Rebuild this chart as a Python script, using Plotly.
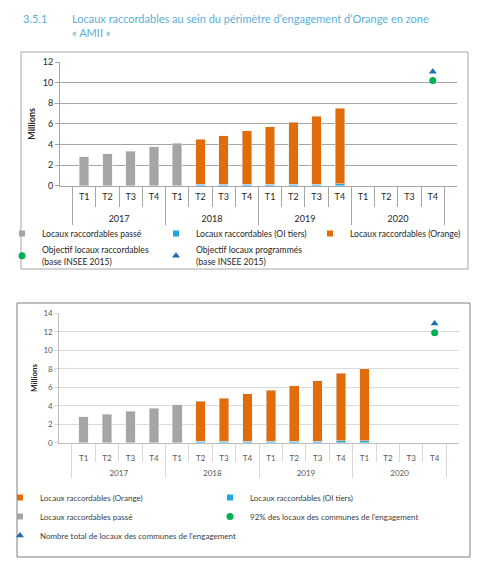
import plotly.graph_objects as go

W, H = 479, 567

# categories
years = ["2017"] * 4 + ["2018"] * 4 + ["2019"] * 4 + ["2020"] * 4
quarters = ["T1", "T2", "T3", "T4"] * 4

# chart 1 (top) values, millions
passe_1 = [2.8, 3.1, 3.35, 3.77, 4.12] + [None] * 11
oi_1 = [None] * 5 + [0.15, 0.15, 0.15, 0.15, 0.15, 0.15, 0.18] + [None] * 4
orange_1 = [None] * 5 + [4.35, 4.69, 5.17, 5.56, 5.99, 6.57, 7.32] + [None] * 4
obj_racc_1 = [None] * 15 + [10.2]
obj_prog_1 = [None] * 15 + [11.05]

# chart 2 (bottom) values, millions
passe_2 = [2.8, 3.1, 3.39, 3.75, 4.08] + [None] * 11
oi_2 = [None] * 5 + [0.15, 0.15, 0.15, 0.15, 0.15, 0.18, 0.22, 0.22] + [None] * 3
orange_2 = [None] * 5 + [4.36, 4.65, 5.12, 5.55, 5.99, 6.52, 7.28, 7.76] + [None] * 3
obj_92_2 = [None] * 15 + [11.9]
obj_total_2 = [None] * 15 + [12.9]

GREY = "#A5A5A5"
BLUE = "#22A6E0"
ORANGE = "#E36C0A"
GREEN = "#00B050"
TRI = "#1F6DB5"
FONT = "Lato"


def px_y(p):
    return 1 - p / H


def px_x(p):
    return p / W


# year goes on a second line so it sits below the quarter row, like Excel
x_cat = [["<br>" + y for y in years], quarters]

fig = go.Figure()


def add_chart(xa, ya, leg, passe, oi, orange, circ, tri, names, ranks):
    # bars (legend drawn by small proxies below)
    fig.add_trace(go.Bar(x=x_cat, y=passe, marker_color=GREY, xaxis=xa, yaxis=ya,
                         showlegend=False, name=names[0]))
    fig.add_trace(go.Bar(x=x_cat, y=oi, marker_color=BLUE, xaxis=xa, yaxis=ya,
                         showlegend=False, name=names[1]))
    fig.add_trace(go.Bar(x=x_cat, y=orange, marker_color=ORANGE, xaxis=xa, yaxis=ya,
                         showlegend=False, name=names[2]))
    for i, c in enumerate([GREY, BLUE, ORANGE]):
        fig.add_trace(go.Scatter(x=[[x_cat[0][-1]], ["T4"]], y=[None], mode="markers",
                                 marker=dict(symbol="square", size=6, color=c),
                                 xaxis=xa, yaxis=ya, name=names[i], legend=leg,
                                 legendrank=ranks[i]))
    fig.add_trace(go.Scatter(x=x_cat, y=circ, mode="markers", name=names[3],
                             marker=dict(symbol="circle", size=7, color=GREEN),
                             xaxis=xa, yaxis=ya, legend=leg, legendrank=ranks[3]))
    fig.add_trace(go.Scatter(x=x_cat, y=tri, mode="markers", name=names[4],
                             marker=dict(symbol="triangle-up", size=7, color=TRI),
                             xaxis=xa, yaxis=ya, legend=leg, legendrank=ranks[4]))


add_chart("x", "y", "legend", passe_1, oi_1, orange_1, obj_racc_1, obj_prog_1,
          ["Locaux raccordables passé", "Locaux raccordables (OI tiers)",
           "Locaux raccordables (Orange)",
           "Objectif locaux raccordables<br>(base INSEE 2015)",
           "Objectif locaux programmés<br>(base INSEE 2015)"],
          [1, 2, 3, 4, 5])

add_chart("x2", "y2", "legend2", passe_2, oi_2, orange_2, obj_92_2, obj_total_2,
          ["Locaux raccordables passé", "Locaux raccordables (OI tiers)",
           "Locaux raccordables (Orange)",
           "92% des locaux des communes de l'engagement",
           "Nombre total de locaux des communes de l'engagement"],
          [3, 2, 1, 4, 5])

xcommon = dict(type="multicategory", showgrid=False, showline=True,
               ticks="outside", tickson="boundaries",
               showdividers=True, dividerwidth=1, fixedrange=True)

fig.update_layout(
    width=W, height=H,
    margin=dict(l=0, r=0, t=0, b=0, autoexpand=False),
    paper_bgcolor="white", plot_bgcolor="white",
    font=dict(family=FONT, color="#404040", size=9),
    barmode="stack", bargap=0.59,
    xaxis=dict(domain=[px_x(60), px_x(457)], anchor="y", linecolor="#A6A6A6",
               tickcolor="#A6A6A6", dividercolor="#A6A6A6", ticklen=20,
               ticklabelstandoff=2,
               tickfont=dict(size=9, color="#262626"), **xcommon),
    yaxis=dict(domain=[px_y(185.7), px_y(62)], anchor="x", range=[0, 12],
               dtick=2, showgrid=True, gridcolor="#A6A6A6", showline=True,
               linecolor="#A6A6A6", ticks="outside", ticklen=4,
               tickcolor="#A6A6A6", tickfont=dict(size=9, color="#262626"),
               title=dict(text="<b>Millions</b>", standoff=5,
                          font=dict(size=9, color="#262626")),
               zeroline=False, fixedrange=True),
    xaxis2=dict(domain=[px_x(59.3), px_x(459)], anchor="y2", linecolor="#BFBFBF",
                tickcolor="#D9D9D9", dividercolor="#D9D9D9", ticklen=18,
                ticklabelstandoff=8,
                tickfont=dict(size=8, color="#595959"), **xcommon),
    yaxis2=dict(domain=[px_y(442.7), px_y(313.3)], anchor="x2", range=[0, 14],
                dtick=2, showgrid=True, gridcolor="#D9D9D9", showline=True,
                linecolor="#BFBFBF", ticks="outside", ticklen=4,
                tickcolor="#D9D9D9", tickfont=dict(size=8, color="#595959"),
                title=dict(text="<b>Millions</b>", standoff=4,
                           font=dict(size=8, color="#262626")),
                zeroline=False, fixedrange=True),
    legend=dict(orientation="h", x=px_x(2), y=px_y(219), xanchor="left",
                yanchor="top", entrywidth=109, entrywidthmode="pixels",
                traceorder="normal", font=dict(size=8.6, color="#262626"),
                bgcolor="rgba(0,0,0,0)", itemwidth=30),
    legend2=dict(orientation="h", x=px_x(0), y=px_y(483), xanchor="left",
                 yanchor="top", entrywidth=165, entrywidthmode="pixels",
                 traceorder="normal", font=dict(size=8, color="#404040"),
                 bgcolor="rgba(0,0,0,0)", itemwidth=30),
    showlegend=True,
)

# chart frames
fig.add_shape(type="rect", xref="paper", yref="paper",
              x0=px_x(21), x1=px_x(468), y0=px_y(269), y1=px_y(52),
              line=dict(color="#A6A6A6", width=1))
fig.add_shape(type="rect", xref="paper", yref="paper",
              x0=px_x(17), x1=px_x(470), y0=px_y(557), y1=px_y(303),
              line=dict(color="#7F7F7F", width=1))

# section heading
HEAD = "#5BAFD6"
fig.add_annotation(text="3.5.1", xref="paper", yref="paper", x=px_x(21), y=px_y(18),
                   xanchor="left", yanchor="middle", showarrow=False,
                   font=dict(size=11, color=HEAD))
fig.add_annotation(text="Locaux raccordables au sein du périmètre d’engagement d’Orange en zone<br>« AMII »",
                   xref="paper", yref="paper", x=px_x(70), y=px_y(10), align="left",
                   xanchor="left", yanchor="top", showarrow=False,
                   font=dict(size=11, color=HEAD))

# page body has a default margin; drop it so the figure sits at 0,0
fig.write_html("out.html", config={"displayModeBar": False},
               post_script="document.body.style.margin='0';")
